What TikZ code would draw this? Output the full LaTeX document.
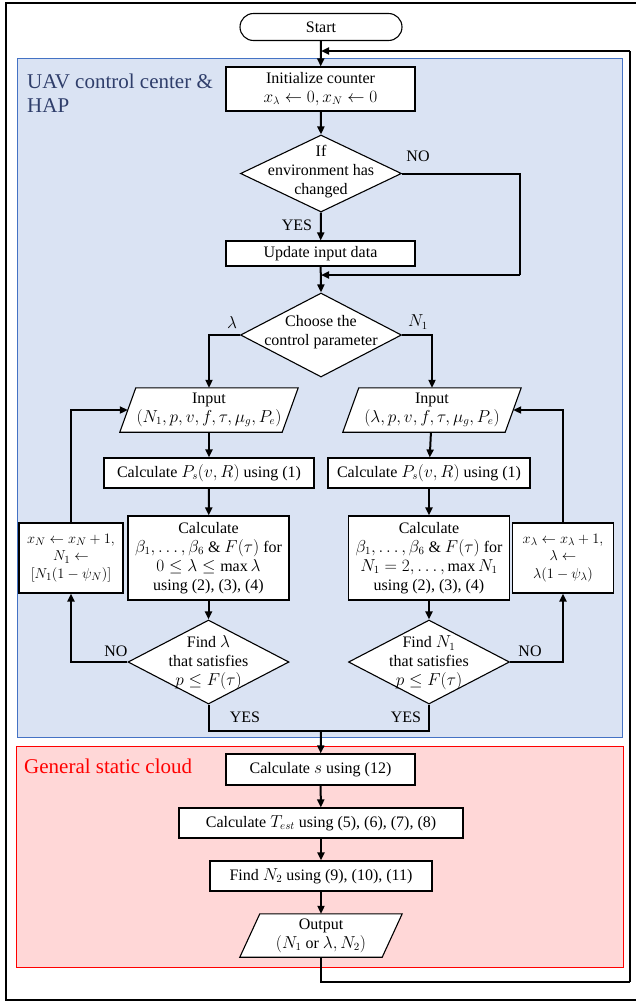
\documentclass[tikz,border=0pt]{standalone}
\usepackage{fontspec}
\setmainfont{Liberation Serif}
\usetikzlibrary{arrows.meta,shapes.geometric,calc}
\definecolor{bluefill}{HTML}{DAE3F3}
\definecolor{blueedge}{HTML}{4472C4}
\definecolor{redfill}{HTML}{FFD7D7}
\definecolor{titleblue}{HTML}{2F3E6B}
\newcommand\mybody{\fontsize{16}{19}\selectfont}
\newcommand\mysmall{\fontsize{15}{17.5}\selectfont}
\newcommand\mytitle{\fontsize{21}{24}\selectfont}
\begin{document}
\begin{tikzpicture}[x=1pt,y=-1pt,
  box/.style={draw, line width=1.1pt, fill=white, align=center, inner sep=1pt, font=\mybody},
  term/.style={box, rounded corners=13.5pt},
  dshape/.style={diamond, draw, line width=1.1pt, fill=white, inner sep=0pt, minimum width=161pt, minimum height=84pt},
  pshape/.style={inner sep=0pt, minimum height=44pt},
  txt/.style={align=center, inner sep=0pt, font=\mybody},
  lbl/.style={inner sep=0pt, font=\mybody},
  flow/.style={line width=2pt},
  arr/.style={flow, -{Triangle[length=8pt,width=7pt]}},
  para/.style={draw, line width=1.1pt, fill=white}
]
\useasboundingbox (0,0) rectangle (635,1002);
\fill[white] (0,0) rectangle (635,1002);
\draw[line width=2.5pt] (6,3) rectangle (645,1000);
\draw[blueedge, fill=bluefill, line width=1pt] (17,58) rectangle (622,737);
\draw[red, fill=redfill, line width=1pt] (16,746) rectangle (623,967);
\node[anchor=west, align=left, inner sep=0pt, font=\mytitle, text=titleblue] (t1) at (27,93) {UAV control center \&\\HAP};
\node[anchor=west, inner sep=0pt, font=\mytitle, text=red] (t2) at (24,766) {General static cloud};

% main column
\node[term, minimum width=162pt, minimum height=27pt] (start) at (321,27) {Start};
\node[box, minimum width=189pt, minimum height=44pt] (init) at (320.5,89) {Initialize counter\\$x_\lambda \leftarrow 0, x_N \leftarrow 0$};
\node[dshape, minimum height=77pt] (d1) at (321,173.5) {};
\node[txt] (d1t) at (321,172) {If\\environment has\\changed};
\node[box, minimum width=189pt, minimum height=25pt] (update) at (320.5,253.5) {Update input data};
\node[dshape] (d2) at (321,335) {};
\node[txt] (d2t) at (321,332) {Choose the\\control parameter};

% left column
\node[pshape, minimum width=162pt] (p1) at (209,410) {};
\draw[para] ($(p1.south west)+(-8,0)$) -- ($(p1.south east)+(-8,0)$) -- ($(p1.north east)+(8,0)$) -- ($(p1.north west)+(8,0)$) -- cycle;
\node[txt] (p1t) at (p1) {Input\\$(N_1,p,v,f,\tau,\mu_g,P_e)$};
\node[box, minimum width=210pt, minimum height=30pt] (ps1) at (209,473) {Calculate $P_s(v,R)$ using (1)};
\node[box, minimum width=161pt, minimum height=84pt] (b1) at (208.5,558) {Calculate\\$\beta_1,\dots,\beta_6$ \& $F(\tau)$ for\\$0\le\lambda\le\max\lambda$\\using (2), (3), (4)};
\node[box, font=\mysmall, minimum width=104pt, minimum height=70pt] (c1) at (71,558) {$x_N\leftarrow x_N+1,$\\$N_1\leftarrow$\\$[N_1(1-\psi_N)]$};
\node[dshape] (d3) at (208.5,662) {};
\node[txt] (d3t) at (208.5,663) {Find $\lambda$\\that satisfies\\$p\le F(\tau)$};

% right column
\node[pshape, minimum width=162pt] (p2) at (432,410) {};
\draw[para] ($(p2.south west)+(-8,0)$) -- ($(p2.south east)+(-8,0)$) -- ($(p2.north east)+(8,0)$) -- ($(p2.north west)+(8,0)$) -- cycle;
\node[txt] (p2t) at (p2) {Input\\$(\lambda,p,v,f,\tau,\mu_g,P_e)$};
\node[box, minimum width=202pt, minimum height=30pt] (ps2) at (429,473) {Calculate $P_s(v,R)$ using (1)};
\node[box, minimum width=161pt, minimum height=84pt] (b2) at (429,558) {Calculate\\$\beta_1,\dots,\beta_6$ \& $F(\tau)$ for\\$N_1=2,\dots,\max N_1$\\using (2), (3), (4)};
\node[box, font=\mysmall, minimum width=101pt, minimum height=70pt] (c2) at (563,558) {$x_\lambda\leftarrow x_\lambda+1,$\\$\lambda\leftarrow$\\$\lambda(1-\psi_\lambda)$};
\node[dshape] (d4) at (429,662) {};
\node[txt] (d4t) at (429,663) {Find $N_1$\\that satisfies\\$p\le F(\tau)$};

% cloud part
\node[box, minimum width=189pt, minimum height=31pt] (calcs) at (320.5,769.5) {Calculate $s$ using (12)};
\node[box, minimum width=284pt, minimum height=30pt] (test) at (321,823) {Calculate $T_{est}$ using (5), (6), (7), (8)};
\node[box, minimum width=222pt, minimum height=30pt] (n2) at (321,876) {Find $N_2$ using (9), (10), (11)};
\node[pshape, minimum width=142pt, minimum height=43pt] (out) at (321,935.5) {};
\draw[para] ($(out.south west)+(-10,0)$) -- ($(out.south east)+(-10,0)$) -- ($(out.north east)+(10,0)$) -- ($(out.north west)+(10,0)$) -- cycle;
\node[txt] (outt) at (out) {Output\\$(N_1$ or $\lambda,N_2)$};

% labels
\node[lbl] (lyes1) at (297,225) {YES};
\node[lbl] (lno1) at (418,156) {NO};
\node[lbl] (llam) at (232,322) {$\lambda$};
\node[lbl] (lN1) at (418,322) {$N_1$};
\node[lbl] (lno2) at (116,651) {NO};
\node[lbl] (lno3) at (530,651) {NO};
\node[lbl] (lyes2) at (245,717) {YES};
\node[lbl] (lyes3) at (406,717) {YES};

% coordinates
\coordinate (fbE) at (321,51);
\coordinate (fbT) at (630,51);
\coordinate (fbB) at (630,982);
\coordinate (noR) at (520,275);
\coordinate (merge) at (321,275);
\coordinate (join) at (321,731);

% connectors
\draw[arr] (start) -- (init);
\draw[arr] (init) -- (d1.north);
\draw[arr] (d1.south) -- (update);
\draw[flow] (d1.east) -| (noR);
\draw[arr] (noR) -- (merge);
\draw[arr] (update) -- (d2.north);
\draw[arr] (d2.west) -| (p1.north);
\draw[arr] (d2.east) -| (p2.north);
\draw[arr] (p1) -- (ps1);
\draw[arr] (ps1) -- (b1);
\draw[arr] (b1) -- (d3.north);
\draw[arr] (p2) -- (ps2);
\draw[arr] (ps2) -- (b2);
\draw[arr] (b2) -- (d4.north);
\draw[arr] (d3.west) -| (c1.south);
\draw[arr] (c1.north) |- (p1.west);
\draw[arr] (d4.east) -| (c2.south);
\draw[arr] (c2.north) |- (p2.east);
\draw[flow] (d3.south) |- (join);
\draw[flow] (d4.south) |- (join);
\draw[arr] (join) -- (calcs);
\draw[arr] (calcs) -- (test);
\draw[arr] (test) -- (n2);
\draw[arr] (n2) -- (out.north);
\draw[flow] (out.south) |- (fbB);
\draw[flow] (fbB) -- (fbT);
\draw[arr] (fbT) -- (fbE);
\end{tikzpicture}
\end{document}
